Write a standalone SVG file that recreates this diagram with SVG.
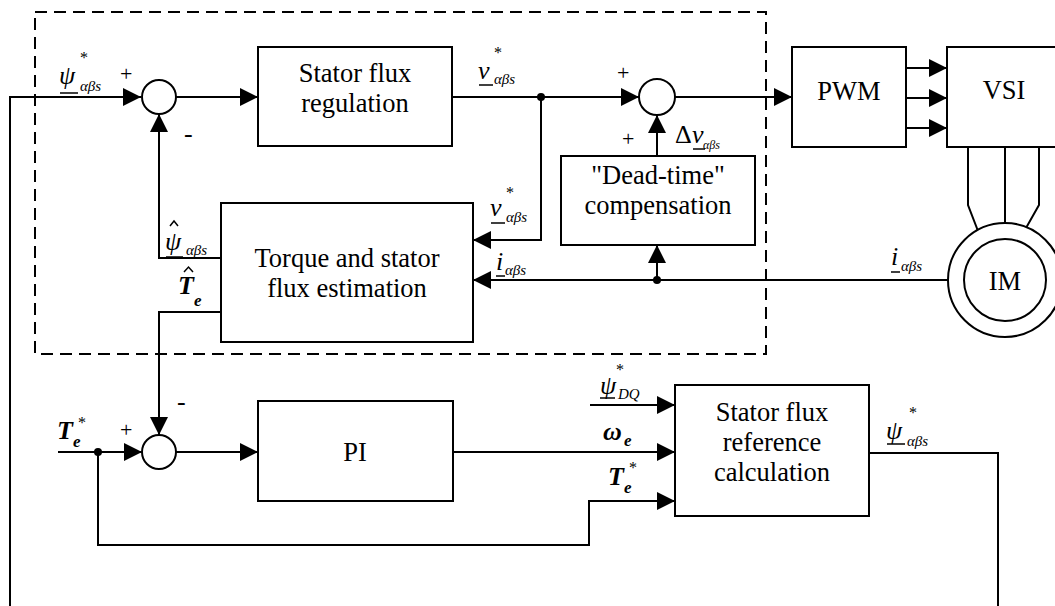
<svg xmlns="http://www.w3.org/2000/svg" width="1055" height="606" viewBox="0 0 1055 606">
<style>
text{font-family:"Liberation Serif","Times New Roman",Times,"DejaVu Serif",serif;fill:#000}
.box{fill:#fff;stroke:#000;stroke-width:2}
.sum{fill:#fff;stroke:#000;stroke-width:2}
.ln{fill:none;stroke:#000;stroke-width:2}
.arr{fill:none;stroke:#000;stroke-width:2;marker-end:url(#ah)}
.dash{fill:none;stroke:#000;stroke-width:2;stroke-dasharray:12 7}
.ul{stroke:#000;stroke-width:1.5}
.hat{fill:none;stroke:#000;stroke-width:1.5}
.bt{font-size:26.5px;text-anchor:middle}
.sym{font-size:26px;font-style:italic}
.bsym{font-size:26px;font-style:italic;font-weight:bold}
.sub{font-size:15px;font-style:italic}
.bsub{font-size:17px;font-style:italic;font-weight:bold}
.star{font-size:16px}
.sg{font-size:22px}
</style>
<defs>
<marker id="ah" viewBox="0 0 18 18" markerWidth="18" markerHeight="18" markerUnits="userSpaceOnUse" refX="18" refY="9" orient="auto">
<path d="M0,0 L18,9 L0,18 z" fill="#000"/>
</marker>
</defs>
<rect width="1055" height="606" fill="#fff"/>

<g id="boundary">
<rect class="dash" x="35" y="12" width="731" height="342"/>
</g>

<g id="connectors">
<path class="ln" d="M869,453 H998 V612"/>
<path class="arr" d="M10,612 V97 H141"/>
<path class="arr" d="M176,97 H258"/>
<path class="arr" d="M452,97 H639"/>
<path class="arr" d="M541,97 V240 H473"/>
<path class="arr" d="M675,97 H792"/>
<path class="arr" d="M906,68 H947"/>
<path class="arr" d="M906,98 H947"/>
<path class="arr" d="M906,128 H947"/>
<path class="ln" d="M968,147 V205 L978,231"/>
<path class="ln" d="M1005,147 V223"/>
<path class="ln" d="M1039,147 V205 L1026,228"/>
<path class="arr" d="M948,280 H473"/>
<path class="arr" d="M657,280 V245"/>
<path class="arr" d="M657,156 V115"/>
<path class="arr" d="M221,258 H159 V114"/>
<path class="arr" d="M221,312 H159 V435"/>
<path class="arr" d="M58,452 H142"/>
<path class="arr" d="M176,452 H258"/>
<path class="arr" d="M453,452 H675"/>
<path class="arr" d="M590,405 H675"/>
<path class="arr" d="M98,452 V545 H589 V501 H675"/>
<circle cx="541" cy="97" r="4" fill="#000"/>
<circle cx="657" cy="280" r="4" fill="#000"/>
<circle cx="98" cy="452" r="4" fill="#000"/>
</g>

<g id="sum1">
<circle class="sum" cx="159" cy="97" r="17"/>
<text class="sg" x="120" y="81">+</text>
<text class="sg" x="184" y="142" style="font-size:26px">-</text>
</g>
<g id="sum2">
<circle class="sum" cx="657" cy="97" r="18"/>
<text class="sg" x="617" y="80">+</text>
<text class="sg" x="622" y="146">+</text>
</g>
<g id="sum3">
<circle class="sum" cx="159" cy="452" r="17"/>
<text class="sg" x="120" y="437">+</text>
<text class="sg" x="177" y="410" style="font-size:26px">-</text>
</g>

<g id="stator-flux-regulation">
<rect class="box" x="258" y="47" width="194" height="99"/>
<text class="bt" x="355" y="82">Stator flux</text>
<text class="bt" x="355" y="112">regulation</text>
</g>
<g id="pwm">
<rect class="box" x="792" y="47" width="114" height="100"/>
<text class="bt" x="849" y="100">PWM</text>
</g>
<g id="vsi">
<rect class="box" x="947" y="47" width="120" height="100"/>
<text class="bt" x="1004" y="99">VSI</text>
</g>
<g id="dead-time">
<rect class="box" x="561" y="156" width="194" height="89"/>
<text class="bt" x="658" y="184">"Dead-time"</text>
<text class="bt" x="658" y="214">compensation</text>
</g>
<g id="torque-flux-estimation">
<rect class="box" x="221" y="203" width="252" height="139"/>
<text class="bt" x="347" y="267">Torque and stator</text>
<text class="bt" x="347" y="297">flux estimation</text>
</g>
<g id="im">
<circle class="box" cx="1005" cy="280" r="57"/>
<circle class="box" cx="1005" cy="280" r="41"/>
<text class="bt" x="1005" y="290">IM</text>
</g>
<g id="pi">
<rect class="box" x="258" y="401" width="195" height="100"/>
<text class="bt" x="355" y="461">PI</text>
</g>
<g id="stator-flux-reference">
<rect class="box" x="675" y="385" width="194" height="131"/>
<text class="bt" x="772" y="421">Stator flux</text>
<text class="bt" x="772" y="451">reference</text>
<text class="bt" x="772" y="481">calculation</text>
</g>

<g id="labels">
<g id="lbl-psi-ref-in">
<text class="sym" x="59" y="84">ψ</text>
<line class="ul" x1="60" y1="93" x2="78" y2="93"/>
<text class="sub" x="80" y="91">αβs</text>
<text class="star" x="80" y="63">*</text>
</g>
<g id="lbl-v-ref">
<text class="sym" x="478" y="79">v</text>
<line class="ul" x1="479" y1="85" x2="493" y2="85"/>
<text class="sub" x="494" y="84">αβs</text>
<text class="star" x="494" y="58">*</text>
</g>
<g id="lbl-dv">
<text class="sym" x="675" y="143" style="font-style:normal">Δ</text>
<text class="sym" x="692" y="143">v</text>
<line class="ul" x1="693" y1="149" x2="705" y2="149"/>
<text class="sub" x="703" y="149" style="font-size:12px">αβs</text>
</g>
<g id="lbl-v-ref-est">
<text class="sym" x="490" y="216">v</text>
<line class="ul" x1="491" y1="223" x2="505" y2="223"/>
<text class="sub" x="506" y="222">αβs</text>
<text class="star" x="506" y="198">*</text>
</g>
<g id="lbl-i-est">
<text class="sym" x="496" y="270">i</text>
<line class="ul" x1="496" y1="276" x2="505" y2="276"/>
<text class="sub" x="505" y="275">αβs</text>
</g>
<g id="lbl-i-im">
<text class="sym" x="891" y="265">i</text>
<line class="ul" x1="891" y1="272" x2="900" y2="272"/>
<text class="sub" x="901" y="271">αβs</text>
</g>
<g id="lbl-psi-hat">
<text class="sym" x="165" y="250">ψ</text>
<path class="hat" d="M170,226 L174,221 L178,226"/>
<line class="ul" x1="166" y1="257" x2="183" y2="257"/>
<text class="sub" x="186" y="255">αβs</text>
</g>
<g id="lbl-te-hat">
<text class="bsym" x="178" y="294">T</text>
<path class="hat" d="M184,272 L188.5,267 L193,272"/>
<text class="bsub" x="194" y="306">e</text>
</g>
<g id="lbl-te-ref">
<text class="bsym" x="57" y="439">T</text>
<text class="bsub" x="73" y="447">e</text>
<text class="star" x="78" y="428">*</text>
</g>
<g id="lbl-psi-dq">
<text class="sym" x="600" y="394">ψ</text>
<line class="ul" x1="600" y1="398" x2="615" y2="398"/>
<text class="sub" x="618" y="399">DQ</text>
<text class="star" x="616" y="375">*</text>
</g>
<g id="lbl-omega">
<text class="bsym" x="603" y="440">ω</text>
<text class="bsub" x="624" y="446">e</text>
</g>
<g id="lbl-te-ref2">
<text class="bsym" x="608" y="485">T</text>
<text class="bsub" x="624" y="493">e</text>
<text class="star" x="629" y="473">*</text>
</g>
<g id="lbl-psi-ref-out">
<text class="sym" x="886" y="439">ψ</text>
<line class="ul" x1="887" y1="444" x2="905" y2="444"/>
<text class="sub" x="907" y="446">αβs</text>
<text class="star" x="909" y="418">*</text>
</g>
</g>
</svg>
